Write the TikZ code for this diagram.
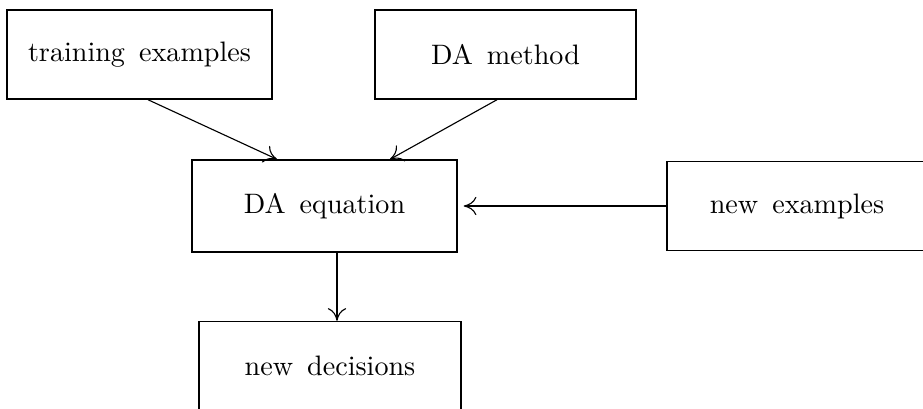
\documentclass[tikz,border=0pt]{standalone}
\usetikzlibrary{arrows.meta, positioning}

\begin{document}
\begin{tikzpicture}[
    x=0.0125cm, y=-0.0125cm,
    box/.style={rectangle, draw=black, line width=0.5pt, inner sep=0pt, text centered, minimum height=1.1125cm, execute at begin node={\spaceskip=5pt\relax}},
    arrow/.style={line width=0.4pt, -{To[length=4.5pt,width=6.5pt]}}
]
\useasboundingbox (0,0) rectangle (923,408);

% Input boxes
\node[box, minimum width=3.3125cm] (train) at (139.5,54.5) {training examples};
\node[box, minimum width=3.2625cm] (method) at (505.5,54.5) {DA method};

% Central box
\node[box, minimum width=3.3125cm, minimum height=1.15cm] (equation) at (324.5,206) {DA equation};

% Side input
\node[box, minimum width=3.25cm] (newex) at (797,206) {new examples};

% Output
\node[box, minimum width=3.275cm] (decide) at (330,366) {new decisions};

% Connections
\draw[arrow] ([xshift=8.5*0.0125cm]train.south) -- ([xshift=-47.5*0.0125cm]equation.north);
\draw[arrow] ([xshift=-8.5*0.0125cm]method.south) -- ([xshift=65.5*0.0125cm]equation.north);
\draw[arrow, shorten >=6*0.0125cm] (newex.west) -- (equation.east);
\draw[arrow] ([xshift=12.5*0.0125cm]equation.south) -- ([xshift=7*0.0125cm]decide.north);

\end{tikzpicture}
\end{document}
